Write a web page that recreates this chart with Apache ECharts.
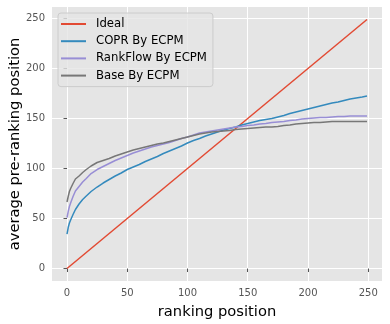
<!DOCTYPE html>
<html>
<head>
<meta charset="utf-8">
<script src="https://cdn.jsdelivr.net/npm/echarts@6/dist/echarts.min.js"></script>
<style>
  html, body { margin: 0; padding: 0; background: #fff; }
  #chart { width: 390px; height: 324px; }
</style>
</head>
<body>
<div id="chart"></div>
<script>
const positions = [0, 1, 2, 3, 5, 7, 10, 13, 16,
  20, 25, 30, 35, 40, 45, 50, 55, 60, 65, 70, 75, 80, 85, 90, 95,
  100, 105, 110, 115, 120, 125, 130, 135, 140, 145, 150, 155, 160, 165, 170, 175,
  180, 185, 190, 195, 200, 205, 210, 215, 220, 225, 230, 235, 240, 245, 249];

const idealX = [0, 249];
const idealY = [0, 249];

const copr = [34.5, 41, 45.5, 48.5, 54, 59, 64.5, 69, 72.5,
  77, 81.5, 85.5, 89, 92.5, 95.5, 99, 101.5, 104, 107, 109.5, 112, 115, 117.5, 120, 122.5,
  125.5, 128, 130, 132.5, 134.5, 136.5, 138.5, 140, 141.5, 143.5, 145, 146.5, 148, 149, 150, 151.5,
  153, 155, 156.5, 158, 159.5, 161, 162.5, 164, 165.5, 166.5, 168, 169.5, 170.5, 171.5, 172.5];

const rankflow = [51, 57, 62, 65.5, 72, 77.5, 82, 86.5, 90,
  95, 99, 102, 105, 108, 110.5, 113, 115.5, 117.5, 119.5, 121.5, 123, 124.5, 126, 128, 130,
  131.5, 133.5, 135.5, 136.5, 137.5, 138.5, 139.5, 140.5, 141.5, 142, 143, 143.5, 144.5, 145, 146, 146.5,
  147, 148, 148.5, 149.5, 150, 150.5, 151, 151, 151.5, 152, 152, 152.5, 152.5, 152.5, 152.5];

const base = [66.5, 72, 77, 80, 85, 89.5, 92.5, 96, 99,
  102.5, 106, 108, 110, 112.5, 114.5, 116.5, 118.5, 120, 121.5, 123, 124.5, 125.5, 127, 128.5, 130,
  131.5, 133, 134.5, 135.5, 136.5, 137, 137.5, 138, 139, 139.5, 140, 140.5, 141, 141.5, 141.5, 142,
  143, 143.5, 144.5, 145, 145.5, 146, 146, 146.5, 147, 147, 147, 147, 147, 147, 147];

const tickValues = [0, 50, 100, 150, 200, 250];

const pairs = (xs, ys) => xs.map((x, i) => [x, ys[i]]);

const chart = echarts.init(document.getElementById('chart'));

const axisCommon = {
  type: 'value',
  min: -12.45,
  max: 261.45,
  nameLocation: 'middle',
  nameMoveOverlap: false,
  nameTextStyle: { fontFamily: 'DejaVu Sans', fontSize: 14.7, color: '#000' },
  axisLine: { show: false },
  axisTick: { show: true, length: 3.5, lineStyle: { color: '#555', width: 1 }, customValues: tickValues },
  axisLabel: { fontFamily: 'DejaVu Sans', fontSize: 10, color: '#555', margin: 7, customValues: tickValues },
  splitLine: { show: true, lineStyle: { color: '#fff', width: 1 } }
};

const mkLine = (name, data, color) => ({
  name: name,
  type: 'line',
  data: data,
  showSymbol: false,
  symbol: 'none',
  lineStyle: { color: color, width: 1.5 },
  itemStyle: { color: color },
  animation: false
});

chart.setOption({
  animation: false,
  grid: {
    left: 52, right: 8, top: 7, bottom: 43,
    outerBoundsMode: 'none',
    show: true, backgroundColor: '#E5E5E5', borderWidth: 0
  },
  legend: {
    orient: 'vertical',
    left: 58, top: 13,
    icon: 'rect',
    itemWidth: 25, itemHeight: 2,
    itemGap: 3.2,
    padding: [4, 6, 4, 3],
    backgroundColor: 'rgba(229,229,229,0.8)',
    borderColor: '#CCCCCC', borderWidth: 1, borderRadius: 3,
    textStyle: { fontFamily: 'DejaVu Sans', fontSize: 11.7, color: '#000', lineHeight: 14, padding: [0, 0, 0, 5] },
    data: ['Ideal', 'COPR By ECPM', 'RankFlow By ECPM', 'Base By ECPM']
  },
  xAxis: Object.assign({}, axisCommon, { name: 'ranking position', nameGap: 23.5 }),
  yAxis: Object.assign({}, axisCommon, { name: 'average pre-ranking position', nameGap: 29 }),
  series: [
    mkLine('Ideal', pairs(idealX, idealY), '#E24A33'),
    mkLine('COPR By ECPM', pairs(positions, copr), '#348ABD'),
    mkLine('RankFlow By ECPM', pairs(positions, rankflow), '#988ED5'),
    mkLine('Base By ECPM', pairs(positions, base), '#777777')
  ]
});
</script>
</body>
</html>
